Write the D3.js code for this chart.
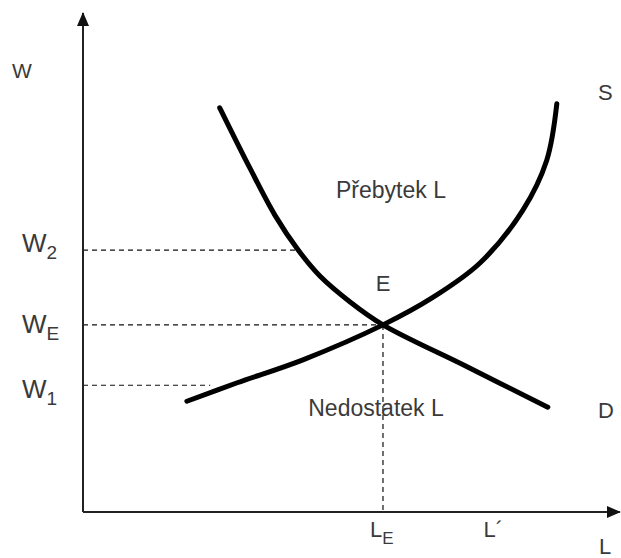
<!DOCTYPE html>
<html>
<head>
<meta charset="utf-8">
<script src="https://cdn.jsdelivr.net/npm/d3@7"></script>
<style>
  body { margin: 0; background: #fff; }
  text { font-family: "Liberation Sans", Arial, sans-serif; fill: #3a3a3a; }
</style>
</head>
<body>
<svg id="chart" width="621" height="558"></svg>
<script>
// curve points (L, W) in chart units
var demandL = [25.8, 31.5, 36.2, 40.6, 44.7, 50.4, 56.6, 72.1, 87.7];
var demandW = [81.0, 68.9, 59.5, 52.5, 47.3, 42.1, 37.5, 29.3, 21.0];
var supplyL = [19.6, 29.1, 41.5, 56.6, 66.0, 74.9, 83.0, 87.5, 89.4];
var supplyW = [22.2, 25.9, 30.5, 37.5, 43.0, 49.9, 60.5, 70.5, 81.8];

// wage levels on the W axis and where their dashed guides stop
var wageNames = ["W", "W", "W"];
var wageSubs = ["2", "E", "1"];
var wageValues = [52.5, 37.5, 25.4];
var wageGuideEnds = [41.1, 56.6, 24.0];

// labour levels on the L axis
var labourNames = ["L", "L´"];
var labourSubs = ["E", ""];
var labourValues = [56.6, 78.0];

var eqL = 56.6, eqW = 37.5;

var svg = d3.select("svg#chart");

var x = d3.scaleLinear().domain([0, 100]).range([83, 613]);
var y = d3.scaleLinear().domain([0, 100]).range([512, 13]);

var defs = svg.append("defs");
defs.append("marker")
	.attr("id", "arrow")
	.attr("viewBox", "0 0 14 12")
	.attr("refX", 13)
	.attr("refY", 6)
	.attr("markerWidth", 14)
	.attr("markerHeight", 12)
	.attr("markerUnits", "userSpaceOnUse")
	.attr("orient", "auto")
	.append("path")
	.attr("d", "M0,0 L14,6 L0,12 Z")
	.attr("fill", "#111");

// dashed guides
svg.selectAll(".wguide")
	.data(wageValues)
	.enter().append("line")
	.attr("class", "wguide")
	.attr("x1", x(0))
	.attr("x2", function (d, i) { return x(wageGuideEnds[i]); })
	.attr("y1", function (d) { return y(d); })
	.attr("y2", function (d) { return y(d); })
	.attr("stroke", "#111")
	.attr("stroke-width", 1.2)
	.attr("stroke-dasharray", "5,4");

svg.append("line")
	.attr("x1", x(eqL)).attr("x2", x(eqL))
	.attr("y1", y(eqW)).attr("y2", y(0))
	.attr("stroke", "#111")
	.attr("stroke-width", 1.2)
	.attr("stroke-dasharray", "5,4");

// axes
svg.append("line")
	.attr("x1", x(0)).attr("y1", y(0))
	.attr("x2", x(0)).attr("y2", y(100))
	.attr("stroke", "#222")
	.attr("stroke-width", 2)
	.attr("marker-end", "url(#arrow)");

svg.append("line")
	.attr("x1", x(0)).attr("y1", y(0))
	.attr("x2", x(101.3)).attr("y2", y(0))
	.attr("stroke", "#222")
	.attr("stroke-width", 2)
	.attr("marker-end", "url(#arrow)");

// curves
var line = d3.line()
	.x(function (d) { return x(d[0]); })
	.y(function (d) { return y(d[1]); })
	.curve(d3.curveCatmullRom.alpha(0.5));

svg.append("path")
	.datum(d3.zip(demandL, demandW))
	.attr("d", line)
	.attr("fill", "none")
	.attr("stroke", "#000")
	.attr("stroke-width", 5)
	.attr("stroke-linecap", "round");

svg.append("path")
	.datum(d3.zip(supplyL, supplyW))
	.attr("d", line)
	.attr("fill", "none")
	.attr("stroke", "#000")
	.attr("stroke-width", 5)
	.attr("stroke-linecap", "round");

// W axis labels
var wageDy = [2, 8, 13];
var wl = svg.selectAll(".wlabel")
	.data(wageValues)
	.enter().append("text")
	.attr("class", "wlabel")
	.attr("x", 22)
	.attr("y", function (d, i) { return y(d) + wageDy[i]; })
	.attr("font-size", "26px");
wl.append("tspan").text(function (d, i) { return wageNames[i]; });
wl.append("tspan")
	.attr("font-size", "19px")
	.attr("dy", 7)
	.text(function (d, i) { return wageSubs[i]; });

// L axis labels
var ll = svg.selectAll(".llabel")
	.data(labourValues)
	.enter().append("text")
	.attr("class", "llabel")
	.attr("x", function (d) { return x(d) - 13; })
	.attr("y", 537)
	.attr("font-size", "22px");
ll.append("tspan").text(function (d, i) { return labourNames[i]; });
ll.append("tspan")
	.attr("font-size", "17px")
	.attr("dy", 7)
	.text(function (d, i) { return labourSubs[i]; });

// other labels
svg.append("text").attr("x", 12).attr("y", 78).attr("font-size", "21px").text("W");
svg.append("text").attr("x", 599).attr("y", 554).attr("font-size", "22px").text("L");
svg.append("text").attr("x", 598).attr("y", 100).attr("font-size", "22px").text("S");
svg.append("text").attr("x", 598).attr("y", 418).attr("font-size", "22px").text("D");
svg.append("text").attr("x", x(eqL)).attr("y", 291).attr("font-size", "22px")
	.attr("text-anchor", "middle").text("E");
svg.append("text").attr("x", 391).attr("y", 198).attr("font-size", "23px")
	.attr("text-anchor", "middle").text("Přebytek L");
svg.append("text").attr("x", 376).attr("y", 416).attr("font-size", "23px")
	.attr("text-anchor", "middle").text("Nedostatek L");
</script>
</body>
</html>
